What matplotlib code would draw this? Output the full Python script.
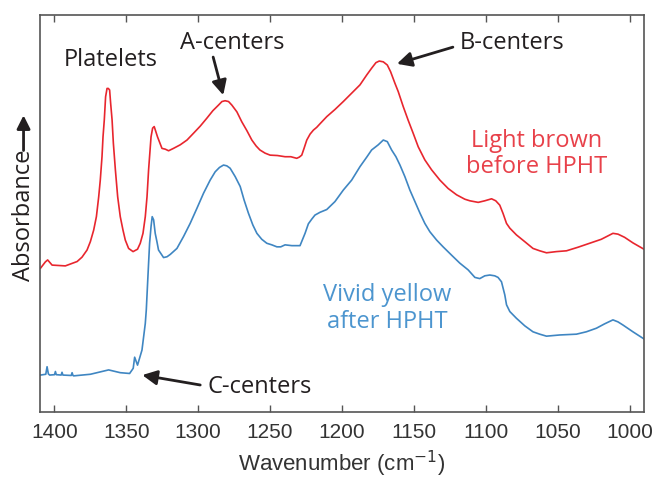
import matplotlib.pyplot as plt
from matplotlib.patches import FancyArrowPatch

# FTIR spectra, wavenumber in cm-1, absorbance offset per trace (arb. units)
wn_brown = [1409.7, 1406.3, 1404.7, 1401.6, 1392.4, 1384.2, 1380.8, 1377.3, 1375.0, 1372.7,
            1370.8, 1369.2, 1368.1, 1366.9, 1366.2, 1365.3, 1364.4, 1363.4, 1362.5, 1361.6,
            1360.9, 1359.9, 1359.0, 1357.6, 1356.0, 1354.2, 1352.3, 1350.7, 1348.4, 1345.3,
            1342.2, 1340.3, 1338.4, 1336.8, 1335.6, 1334.5, 1332.8, 1331.7, 1330.6, 1328.3,
            1325.2, 1322.9, 1320.6, 1317.2, 1312.5, 1307.8, 1303.3, 1298.6, 1294.0, 1289.8,
            1285.9, 1283.5, 1281.3, 1278.9, 1276.6, 1273.1, 1269.7, 1266.2, 1262.7, 1259.7,
            1257.1, 1253.5, 1250.0, 1244.9, 1239.6, 1235.6, 1231.5, 1229.7, 1228.0, 1226.4,
            1224.5, 1222.2, 1219.9, 1217.6, 1215.3, 1210.6, 1204.9, 1199.1, 1193.3, 1187.5,
            1182.8, 1179.4, 1176.4, 1174.1, 1171.3, 1168.5, 1166.2, 1163.2, 1160.9, 1157.4,
            1154.0, 1150.5, 1147.0, 1142.4, 1137.7, 1131.9, 1126.2, 1120.3, 1114.6, 1111.1,
            1105.3, 1100.7, 1096.0, 1093.1, 1090.3, 1088.0, 1085.6, 1083.3, 1078.7, 1072.9,
            1067.2, 1062.5, 1057.8, 1050.9, 1043.9, 1035.9, 1027.8, 1019.7, 1011.6, 1008.1,
            1003.5, 997.7, 990.0]
abs_brown = [0.362, 0.378, 0.383, 0.370, 0.368, 0.379, 0.390, 0.408, 0.429, 0.458,
             0.492, 0.542, 0.584, 0.643, 0.693, 0.736, 0.794, 0.815, 0.815, 0.811,
             0.778, 0.736, 0.677, 0.610, 0.542, 0.492, 0.458, 0.433, 0.412, 0.404,
             0.410, 0.425, 0.450, 0.492, 0.542, 0.610, 0.693, 0.715, 0.719, 0.693,
             0.664, 0.662, 0.658, 0.664, 0.673, 0.685, 0.702, 0.720, 0.740, 0.759,
             0.773, 0.782, 0.784, 0.782, 0.773, 0.756, 0.731, 0.709, 0.685, 0.670,
             0.660, 0.652, 0.647, 0.646, 0.643, 0.643, 0.639, 0.642, 0.647, 0.664,
             0.685, 0.700, 0.710, 0.717, 0.726, 0.744, 0.762, 0.782, 0.803, 0.824,
             0.849, 0.866, 0.880, 0.884, 0.882, 0.874, 0.857, 0.828, 0.807, 0.769,
             0.735, 0.702, 0.668, 0.635, 0.610, 0.584, 0.563, 0.547, 0.536, 0.532,
             0.528, 0.532, 0.537, 0.532, 0.521, 0.500, 0.475, 0.463, 0.446, 0.429,
             0.412, 0.406, 0.401, 0.404, 0.406, 0.415, 0.425, 0.435, 0.450, 0.448,
             0.440, 0.426, 0.410]

wn_yellow = [1409.7, 1406.0, 1405.1, 1404.2, 1403.3, 1399.9, 1399.3, 1398.7, 1395.3, 1394.7,
             1394.1, 1388.3, 1387.7, 1387.1, 1386.6, 1375.0, 1362.3, 1354.2, 1347.7, 1345.2,
             1344.2, 1342.2, 1339.1, 1336.8, 1336.1, 1335.2, 1334.5, 1333.8, 1332.8, 1332.0,
             1331.0, 1329.9, 1328.7, 1327.6, 1324.1, 1321.7, 1319.4, 1314.8, 1310.2, 1305.6,
             1300.9, 1296.3, 1291.7, 1288.2, 1285.2, 1282.4, 1280.1, 1277.8, 1274.3, 1270.8,
             1268.1, 1265.1, 1262.0, 1259.2, 1255.8, 1252.3, 1248.8, 1245.3, 1242.6, 1239.6,
             1234.9, 1229.2, 1225.7, 1223.4, 1221.0, 1218.8, 1215.3, 1210.6, 1204.9, 1199.1,
             1193.3, 1187.5, 1182.8, 1179.4, 1174.8, 1171.3, 1168.5, 1165.5, 1162.5, 1159.7,
             1156.3, 1152.8, 1149.3, 1145.8, 1142.4, 1138.9, 1134.2, 1129.7, 1123.8, 1118.1,
             1112.3, 1107.6, 1104.2, 1100.7, 1097.2, 1093.8, 1091.5, 1089.1, 1086.8, 1085.6,
             1083.3, 1078.7, 1072.9, 1067.2, 1062.5, 1057.8, 1048.6, 1037.0, 1030.1, 1023.1,
             1017.4, 1011.6, 1008.1, 1004.6, 997.7, 990.0]
abs_yellow = [0.093, 0.095, 0.114, 0.096, 0.093, 0.094, 0.102, 0.094, 0.093, 0.100,
              0.093, 0.092, 0.099, 0.092, 0.091, 0.095, 0.106, 0.099, 0.097, 0.110,
              0.138, 0.118, 0.156, 0.223, 0.257, 0.324, 0.375, 0.425, 0.467, 0.492,
              0.484, 0.450, 0.429, 0.408, 0.389, 0.391, 0.397, 0.412, 0.442, 0.475,
              0.513, 0.551, 0.584, 0.605, 0.616, 0.622, 0.620, 0.614, 0.593, 0.568,
              0.534, 0.501, 0.471, 0.450, 0.435, 0.425, 0.421, 0.416, 0.416, 0.421,
              0.419, 0.419, 0.450, 0.474, 0.486, 0.496, 0.503, 0.510, 0.530, 0.559,
              0.584, 0.618, 0.642, 0.660, 0.673, 0.685, 0.681, 0.660, 0.643, 0.622,
              0.593, 0.559, 0.530, 0.501, 0.475, 0.454, 0.433, 0.416, 0.395, 0.375,
              0.358, 0.339, 0.336, 0.343, 0.345, 0.343, 0.339, 0.328, 0.295, 0.270,
              0.253, 0.236, 0.217, 0.202, 0.196, 0.191, 0.194, 0.196, 0.202, 0.211,
              0.222, 0.232, 0.227, 0.219, 0.202, 0.184]

xticks = [1400, 1350, 1300, 1250, 1200, 1150, 1100, 1050, 1000]

red = '#e8262e'
blue = '#3f86c2'
ink = '#231f20'
label_font = 'Open Sans'
tick_font = 'Liberation Sans'

fig = plt.figure(figsize=(6.54, 4.79), dpi=100)
ax = fig.add_axes([0.0612, 0.1399, 0.9235, 0.8288])

ax.plot(wn_brown, abs_brown, color=red, lw=1.2)
ax.plot(wn_yellow, abs_yellow, color=blue, lw=1.2)

ax.set_xlim(1410, 990)
ax.set_ylim(0, 1)
ax.set_xticks(xticks)
ax.set_yticks([])
ax.tick_params(axis='x', direction='in', top=True, length=5, width=1,
               color='#555555', labelsize=15, pad=8)
for lab in ax.get_xticklabels():
    lab.set_fontfamily(tick_font)
    lab.set_color('#333333')
for s in ax.spines.values():
    s.set_color('#555555')
    s.set_linewidth(1.2)

ax.set_xlabel('Wavenumber (cm$^{-1}$)', fontsize=16, family=tick_font,
              color='#333333', labelpad=5)

arrow = dict(arrowstyle='-|>', color=ink, lw=2, mutation_scale=22,
             shrinkA=0, shrinkB=0)
fs = 17

ax.text(1361, 0.887, 'Platelets', ha='center', va='center', fontsize=fs,
        family=label_font, color=ink)
ax.text(1276.4, 0.929, 'A-centers', ha='center', va='center', fontsize=fs,
        family=label_font, color=ink)
ax.annotate('', xy=(1282.6, 0.798), xytext=(1289.6, 0.894), arrowprops=arrow)
ax.text(1082, 0.929, 'B-centers', ha='center', va='center', fontsize=fs,
        family=label_font, color=ink)
ax.annotate('', xy=(1161.8, 0.877), xytext=(1122.9, 0.919), arrowprops=arrow)
ax.text(1256.9, 0.063, 'C-centers', ha='center', va='center', fontsize=fs,
        family=label_font, color=ink)
ax.annotate('', xy=(1338.9, 0.093), xytext=(1298.6, 0.068), arrowprops=arrow)

ax.text(1064.6, 0.65, 'Light brown\nbefore HPHT', ha='center', va='center',
        fontsize=fs, family=label_font, color='#e8414a', linespacing=1.15)
ax.text(1168.8, 0.26, 'Vivid yellow\nafter HPHT', ha='center', va='center',
        fontsize=fs, family=label_font, color='#4c95cf', linespacing=1.15)

# y label with an upward arrow above it
fig.text(0.036, 0.551, 'Absorbance', rotation=90, ha='center', va='center',
         fontsize=fs, family=label_font, color=ink)
fig.add_artist(FancyArrowPatch(
    (0.036, 0.680), (0.036, 0.765), transform=fig.transFigure,
    arrowstyle='-|>', color=ink, lw=2, mutation_scale=20))

fig.savefig('out.png', dpi=100)
